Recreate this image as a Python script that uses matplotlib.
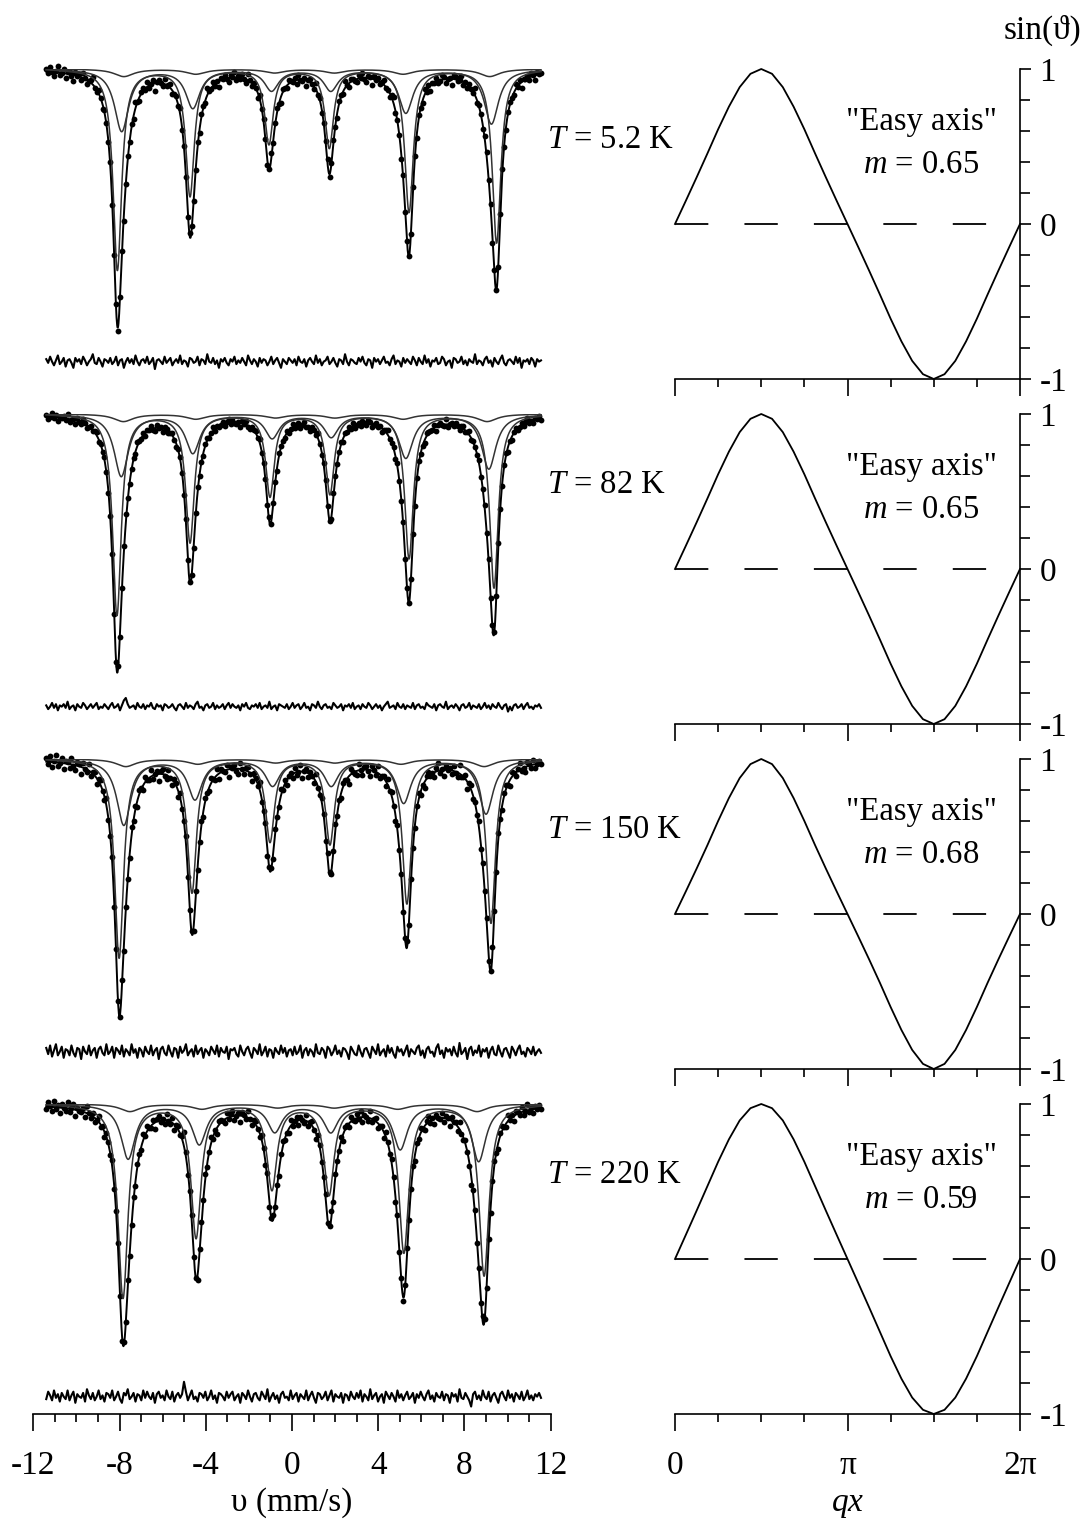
import numpy as np
import matplotlib
matplotlib.use("Agg")
import matplotlib.pyplot as plt
from matplotlib.ticker import MultipleLocator, FixedLocator

plt.rcParams['font.family'] = ['Liberation Serif', 'DejaVu Serif']
plt.rcParams['mathtext.fontset'] = 'custom'
plt.rcParams['mathtext.rm'] = 'Liberation Serif'
plt.rcParams['mathtext.it'] = 'Liberation Serif:italic'
plt.rcParams['axes.unicode_minus'] = False
plt.rcParams['lines.scale_dashes'] = False

# ---- Moessbauer spectra: line positions (mm/s), depths (%), widths (mm/s)
temps = ["5.2", "82", "150", "220"]

posA1 = [-8.10, -4.73, -1.07, 1.73, 5.43, 9.49]
depA1 = [16.2, 10.2, 6.0, 6.3, 11.5, 14.0]
posB1 = [-7.90, -4.60, -0.95, 1.80, 5.28, 9.25]
depB1 = [5.0, 3.1, 1.7, 1.7, 3.5, 4.4]

posA2 = [-8.12, -4.73, -1.02, 1.76, 5.43, 9.37]
depA2 = [16.2, 10.3, 6.6, 6.4, 11.6, 14.0]
posB2 = [-7.92, -4.60, -0.92, 1.82, 5.28, 9.13]
depB2 = [5.0, 3.1, 1.9, 1.8, 3.5, 4.4]

posA3 = [-8.02, -4.64, -1.02, 1.76, 5.33, 9.23]
depA3 = [16.0, 10.7, 6.6, 6.8, 11.6, 13.2]
posB3 = [-7.80, -4.50, -0.90, 1.82, 5.18, 9.00]
depB3 = [5.3, 3.2, 2.1, 2.1, 3.5, 4.4]

posA4 = [-7.84, -4.45, -0.93, 1.72, 5.19, 8.91]
depA4 = [15.6, 10.7, 6.8, 7.2, 11.9, 13.8]
posB4 = [-7.60, -4.30, -0.80, 1.80, 5.02, 8.66]
depB4 = [4.4, 3.2, 2.2, 2.2, 3.6, 4.6]

depC = [0.6, 0.4, 0.3, 0.3, 0.4, 0.6]
widthA = [0.48, 0.48, 0.50, 0.56]
widthB = 0.80
widthC = 1.1

# residuals (units of 0.1 %), one value per channel
res1 = [2, -1, 4, 0, -3, 1, 5, -2, 0, 3, -4, 1, 2, -1, -5, 3, 0, 2, -2, 4, 1, -3, 0, 2, 6, -1, -2, 3, 0, -4, 2, 1,
        -1, 3, -2, 0, 4, -3, 1, 2, -5, 0, 3, -1, 2, -2, 5, 0, -3, 1, 2, -1, 4, -2, 0, 3, -6, 1, 2, 0, -2, 4, -1, 1,
        3, -3, 0, 2, -1, 5, -2, 1, 0, -4, 3, 2, -1, 0, 4, -3, 2, 1, -2, 6, 0, -1, 3, -2, 1, -5, 2, 0, 3, -1, -3, 2,
        0, 4, -2, 1, -1, 3, 0, -3, 5, 1, -2, 2, 0, -4, 3, -1, 2, 1, -3, 0, 4, -2, 1, 3, -1, -5, 2, 0, -2, 3, 1, -1,
        2, -3, 4, 0, -1, 2, -4, 1, 3, 0, -2, 5, -1, 2, -3, 0, 1, 4, -2, 0, 3, -1, -4, 2, 1, -2, 6, 0, -3, 2, 1, -1,
        -2, 3, 0, 4, -1, -3, 2, 1, -5, 3, 0, 2, -2, 1, 4, -1, 0, -3, 2, 5, -2, 1, 0, -4, 3, -1, 2, 0, -2, 4, 1, -3,
        3, 0, -2, 5, -1, 2, -4, 1, 0, 3, -2, -1, 4, 2, -3, 0, 1, -5, 3, 2, -1, 0, 4, -2, 1, -3, 2, 0, -1, 6, -2, 1,
        0, -3, 2, 4, -1, 1, -4, 3, 0, -2, 2, 5, -1, -3, 1, 2, 0, -2, 4, -1, 3, -5, 1, 0, 2, -2, 3, 1, -4, 2, 0, 1]
res2 = [1, -2, 0, 3, -1, 2, -3, 1, 0, 2, -1, 4, -2, 0, 1, -3, 2, 0, -1, 3, 1, -2, 0, 2, -1, 1, 3, -2, 0, -1, 2, 0,
        -2, 1, 3, -1, 0, 2, -3, 1, 5, 7, 2, -1, 0, 1, -2, 3, 0, -1, 2, -2, 1, 0, 3, -1, -2, 2, 0, 1, -3, 2, 1, -1,
        0, 2, -1, -3, 1, 2, 0, -2, 3, -1, 1, 0, -2, 2, 4, -1, 0, -3, 1, 2, -1, 0, 3, -2, 1, -1, 0, 2, -2, 1, 3, -1,
        2, 0, -1, 1, -3, 2, 0, 3, -1, -2, 1, 0, 2, -1, 3, -2, 0, 1, -1, 4, -2, 0, 1, -3, 2, 1, 0, -1, 2, -2, 0, 3,
        -1, 1, 2, -2, 0, 3, -1, 0, -3, 2, 1, -1, 4, 0, -2, 1, 2, -1, 0, -2, 3, 1, -1, 0, 2, -3, 1, 0, 2, -1, 3, -2,
        0, 1, -2, 2, 0, -1, 3, 1, -2, 0, 2, -1, 1, -3, 0, 2, 4, -1, 0, 1, -2, 3, 0, -1, 2, -2, 1, 0, -1, 3, -2, 1,
        2, -1, 0, -2, 3, 1, 0, -1, 2, -3, 1, 2, 0, -1, 4, -2, 0, 1, -1, 2, 0, -3, 1, 2, -1, 0, 3, -2, 1, 0, -1, 2,
        -2, 0, 3, -1, 1, -2, 2, 0, -1, 3, 0, -2, 1, 2, -4, 0, -3, 1, 2, -1, 0, 2, -2, 1, 3, -1, 0, -2, 1, 0, 2, -1]
res3 = [3, -2, 5, -4, 1, 6, -3, 0, 4, -5, 2, 1, -3, 5, -1, -4, 3, 2, -6, 4, 0, -2, 5, -3, 1, 3, -5, 2, 4, -1, -3, 6,
        -2, 0, 4, -5, 3, 1, -2, 5, -4, 2, 0, -3, 6, -1, 2, -5, 3, 1, -4, 4, 0, -2, 5, -3, 1, 3, -6, 2, 4, -1, -3, 5,
        0, -4, 3, 2, -5, 4, -1, 1, 6, -3, 0, 2, -4, 5, -2, 1, 3, -5, 2, 0, -3, 4, 1, -2, 5, -4, 3, 0, -1, 4, -6, 2,
        1, 3, -2, -4, 5, 0, -3, 2, 4, -1, -5, 3, 1, -2, 6, -3, 0, 4, -4, 2, 1, -5, 3, 0, -2, 5, -1, 3, -4, 1, 2, -3,
        4, -2, 0, 5, -5, 1, 3, -3, 2, 0, -4, 6, -1, -2, 3, 1, -5, 4, 2, -3, 0, 5, -2, 1, -4, 3, 2, -1, -6, 4, 1, -2,
        -3, 5, 0, -4, 2, 3, -1, -5, 4, 1, -2, 6, -3, 0, 2, -4, 5, -1, 3, -2, -5, 4, 0, 2, -3, 1, 5, -4, 2, 0, -2, 3,
        5, -3, 1, -5, 2, 4, -1, 0, -4, 3, 6, -2, 1, -5, 3, 0, 2, -3, 4, -1, -4, 7, -2, 0, 3, -6, 2, 4, -3, 1, -1, 5,
        -4, 2, 0, 3, -5, 1, 4, -2, -3, 5, 0, -4, 2, 3, -1, -5, 4, 1, -3, 2, 5, -2, 0, -4, 3, 1, -2, 4, -3, 0, 2, -1]
res4 = [-2, 4, 1, -3, 5, -1, 2, -4, 3, 0, -2, 5, -3, 1, 4, -5, 2, 0, -1, 3, -4, 6, 1, -2, 3, -3, 0, 5, -2, 1, -4, 3,
        2, -1, 5, -3, 0, 4, -2, -5, 3, 1, 6, -2, 0, 3, -4, 2, 1, -3, 5, -1, 4, 0, -2, 3, -5, 2, 4, -1, 1, -3, 5, 0,
        -2, 4, -4, 1, 3, -1, 2, 12, 4, -3, 1, 5, -2, 0, -4, 3, 2, -1, 4, -3, 0, 5, -2, 1, -5, 3, 2, 0, -3, 4, -1, 2,
        4, -3, 0, 2, -5, 3, 1, -2, 5, 0, -4, 2, 3, -1, -3, 4, 1, -2, 6, -4, 0, 3, -2, 1, -5, 2, 4, -1, 0, -3, 5, -2,
        1, 3, -4, 2, 0, -2, 5, -3, 1, 4, -1, -5, 3, 2, -2, 0, 4, -3, 1, 5, -4, 2, 0, -1, 3, -5, 2, 1, -3, 4, 0, -2,
        3, -1, 5, -4, 2, 0, -3, 6, -2, 1, 3, -4, 0, 2, -5, 4, 1, -2, 3, 0, -4, 5, -1, 2, -3, 1, 4, -2, 0, 3, -5, 2,
        -1, 4, 0, -3, 2, 5, -2, 1, -4, 3, 0, -1, 4, -3, 2, 1, -5, 3, 0, 2, -4, 6, -1, -2, 3, 0, -3, -8, 2, 4, -2, 1,
        -3, 5, 0, -2, 4, -4, 1, 3, -1, -5, 2, 4, 0, -3, 5, -1, 2, -4, 3, 1, -2, 4, -3, 0, 5, -2, 1, -3, 2, 0, 3, -1]

# ---- sin(theta) profiles of the cycloid, read at qx = k*pi/16
m_values = ["0.65", "0.65", "0.68", "0.59"]
sin1 = [0, .149, .300, .454, .611, .757, .883, .969, 1, .969, .883, .757, .611, .454, .300, .149, 0,
        -.149, -.300, -.454, -.611, -.757, -.883, -.969, -1, -.969, -.883, -.757, -.611, -.454, -.300, -.149, 0]
sin2 = [0, .149, .300, .454, .611, .757, .883, .969, 1, .969, .883, .757, .611, .454, .300, .149, 0,
        -.149, -.300, -.454, -.611, -.757, -.883, -.969, -1, -.969, -.883, -.757, -.611, -.454, -.300, -.149, 0]
sin3 = [0, .145, .292, .443, .600, .748, .877, .967, 1, .967, .877, .748, .600, .443, .292, .145, 0,
        -.145, -.292, -.443, -.600, -.748, -.877, -.967, -1, -.967, -.877, -.748, -.600, -.443, -.292, -.145, 0]
sin4 = [0, .155, .311, .469, .627, .772, .894, .973, 1, .973, .894, .772, .627, .469, .311, .155, 0,
        -.155, -.311, -.469, -.627, -.772, -.894, -.973, -1, -.973, -.894, -.772, -.627, -.469, -.311, -.155, 0]

posA = [posA1, posA2, posA3, posA4]
depA = [depA1, depA2, depA3, depA4]
posB = [posB1, posB2, posB3, posB4]
depB = [depB1, depB2, depB3, depB4]
res = [res1, res2, res3, res4]
sins = [sin1, sin2, sin3, sin4]


def sextet(v, pos, dep, width):
    out = np.zeros_like(v)
    for p, d in zip(pos, dep):
        out += d / (1 + ((v - p) / (width / 2)) ** 2)
    return out


W, H = 1084, 1519
fig = plt.figure(figsize=(W / 100, H / 100), dpi=100)


def box(x0, y0, x1, y1):
    return [x0 / W, 1 - y1 / H, (x1 - x0) / W, (y1 - y0) / H]


FS = 23.5
tops = [69, 414, 759, 1104]
PH = 310
RES_LEVEL = 76.4

for i in range(4):
    top = tops[i]
    # left: spectrum
    ax = fig.add_axes(box(33.3, top, 550.7, top + PH))
    ax.set_xlim(-12, 12)
    ax.set_ylim(75, 100)
    for s in ['left', 'right', 'top']:
        ax.spines[s].set_visible(False)
    ax.set_yticks([])

    vf = np.linspace(-11.4, 11.55, 1500)
    v = np.linspace(-11.4, 11.55, len(res[i]))
    posC = [p + 0.5 * (q - p) + 0.2 * np.sign(q - p) for p, q in zip(posA[i], posB[i])]
    a = sextet(vf, posA[i], depA[i], widthA[i])
    b = sextet(vf, posB[i], depB[i], widthB)
    c = sextet(vf, posC, depC, widthC)
    env_ch = (sextet(v, posA[i], depA[i], widthA[i]) + sextet(v, posB[i], depB[i], widthB)
              + sextet(v, posC, depC, widthC))
    r = np.array(res[i]) * 0.1

    ax.plot(v, 100 - env_ch + r, 'o', ms=4.2, mew=0, color='black', clip_on=False, zorder=2)
    ax.plot(vf, 100 - c, color='0.2', lw=1.1, zorder=3)
    ax.plot(vf, 100 - b, color='0.2', lw=1.1, zorder=3)
    ax.plot(vf, 100 - a, color='0.2', lw=1.1, zorder=3)
    ax.plot(vf, 100 - a - b - c, color='black', lw=1.4, zorder=4)
    ax.plot(v, RES_LEVEL + r, color='black', lw=1.5, zorder=4)

    if i < 3:
        ax.spines['bottom'].set_visible(False)
        ax.set_xticks([])
    else:
        ax.spines['bottom'].set_linewidth(1.2)
        ax.xaxis.set_major_locator(MultipleLocator(4))
        ax.xaxis.set_minor_locator(MultipleLocator(1))
        ax.tick_params(axis='x', which='major', direction='out', length=12, width=1.2,
                       labelsize=FS + 0.5, pad=14)
        ax.tick_params(axis='x', which='minor', direction='out', length=6, width=1.2)

    fig.text(547 / W, 1 - (top + 79) / H, "$T$ = " + temps[i] + " K", fontsize=FS,
             ha='left', va='baseline')

    # right: sin(theta)
    rx = fig.add_axes(box(675, top, 1020, top + PH))
    rx.set_xlim(0, 2 * np.pi)
    rx.set_ylim(-1, 1)
    qx = np.arange(len(sins[i])) * np.pi / 16
    rx.plot(qx, sins[i], color='black', lw=1.3, clip_on=False)
    rx.axhline(0, color='black', lw=1.3, dashes=(24, 26))
    rx.spines['left'].set_visible(False)
    rx.spines['top'].set_visible(False)
    rx.spines['right'].set_linewidth(1.2)
    rx.spines['bottom'].set_linewidth(1.2)
    rx.yaxis.tick_right()
    rx.yaxis.set_major_locator(FixedLocator([-1, 0, 1]))
    rx.yaxis.set_minor_locator(MultipleLocator(0.2))
    rx.xaxis.set_major_locator(FixedLocator([0, np.pi, 2 * np.pi]))
    rx.xaxis.set_minor_locator(MultipleLocator(np.pi / 4))
    rx.tick_params(axis='y', which='major', direction='out', length=8, width=1.2,
                   labelsize=FS + 0.5, pad=6)
    rx.tick_params(axis='y', which='minor', direction='out', length=7, width=1.2)
    rx.tick_params(axis='x', which='major', direction='out', length=12, width=1.2,
                   labelsize=FS + 0.5, pad=14)
    rx.tick_params(axis='x', which='minor', direction='out', length=6, width=1.2)
    if i < 3:
        rx.tick_params(axis='x', labelbottom=False)
    else:
        rx.set_xticklabels(["0", "π", "2π"])

    fig.text(921 / W, 1 - (top + 61) / H, '"Easy axis"', fontsize=FS, ha='center', va='baseline')
    fig.text(921 / W, 1 - (top + 104) / H, "$m$ = " + m_values[i], fontsize=FS,
             ha='center', va='baseline')

fig.text(1081 / W, 1 - 39 / H, "sin(ϑ)", fontsize=FS + 0.5, ha='right', va='baseline')
fig.text(292 / W, 1 - 1511 / H, "υ (mm/s)", fontsize=FS + 0.5, ha='center', va='baseline')
fig.text(848 / W, 1 - 1511 / H, "$qx$", fontsize=FS + 0.5, ha='center', va='baseline')

fig.savefig("out.png", dpi=100)
